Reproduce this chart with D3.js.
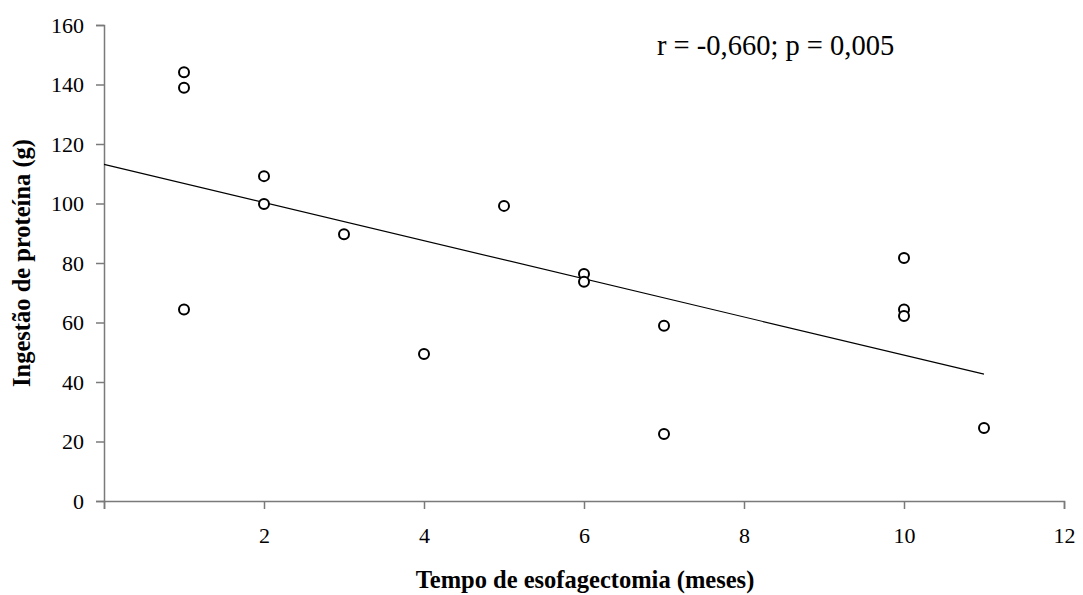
<!DOCTYPE html>
<html>
<head>
<meta charset="utf-8">
<script src="https://cdn.jsdelivr.net/npm/d3@7"></script>
<style>
  body { margin: 0; background: #fff; }
  svg { display: block; }
  text { font-family: "Liberation Serif", "Times New Roman", serif; fill: #000; }
</style>
</head>
<body>
<div id="chart"></div>
<script>
// months since esophagectomy vs protein intake (g)
const tempo   = [1, 1, 1, 2, 2, 3, 4, 5, 6, 6, 7, 7, 10, 10, 10, 11];
const proteina = [144.1, 138.9, 64.4, 109.2, 99.8, 89.7, 49.4, 99.2, 76.3, 73.7, 58.9, 22.5, 81.7, 64.4, 62.2, 24.5];
const xTicks = [0, 2, 4, 6, 8, 10, 12];
const yTicks = [0, 20, 40, 60, 80, 100, 120, 140, 160];
const annotation = "r = -0,660; p = 0,005";

const width = 1083, height = 595;
const margin = { top: 25, right: 19, bottom: 94, left: 104 };
const serif = '"Liberation Serif", "Times New Roman", serif';

const svg = d3.select("#chart").append("svg")
    .attr("width", width)
    .attr("height", height);

const x = d3.scaleLinear().domain([0, 12]).range([margin.left, width - margin.right]);
const y = d3.scaleLinear().domain([0, 160]).range([height - margin.bottom, margin.top]);

// axes
const xAxis = svg.append("g")
    .attr("transform", `translate(0,${y(0)})`)
    .call(d3.axisBottom(x).tickValues(xTicks).tickSize(8).tickPadding(18)
        .tickFormat(d => d === 0 ? "" : d));

const yAxis = svg.append("g")
    .attr("transform", `translate(${x(0)},0)`)
    .call(d3.axisLeft(y).tickValues(yTicks).tickSize(8).tickPadding(12));

[xAxis, yAxis].forEach(g => {
    g.attr("font-family", serif);
    g.select(".domain").attr("stroke", "#7a7a7a").attr("stroke-width", 1.5);
    g.selectAll(".tick line").attr("stroke", "#7a7a7a").attr("stroke-width", 1.5);
    g.selectAll(".tick text")
        .style("font-family", serif)
        .style("font-size", "22px")
        .attr("fill", "#000");
});
yAxis.selectAll(".tick text").attr("dy", "0.34em");

// least squares trend line
const n = tempo.length;
const mx = d3.mean(tempo), my = d3.mean(proteina);
let sxy = 0, sxx = 0;
for (let i = 0; i < n; i++) {
    sxy += (tempo[i] - mx) * (proteina[i] - my);
    sxx += (tempo[i] - mx) ** 2;
}
const slope = sxy / sxx;
const intercept = my - slope * mx;
const lineX = [0, d3.max(tempo)];

svg.append("line")
    .attr("x1", x(lineX[0])).attr("y1", y(intercept + slope * lineX[0]))
    .attr("x2", x(lineX[1])).attr("y2", y(intercept + slope * lineX[1]))
    .attr("stroke", "#000")
    .attr("stroke-width", 1.2);

// points
svg.append("g").selectAll("circle")
    .data(tempo.map((t, i) => ({ t, p: proteina[i] })))
    .join("circle")
    .attr("cx", d => x(d.t))
    .attr("cy", d => y(d.p))
    .attr("r", 5)
    .attr("fill", "#fff")
    .attr("stroke", "#000")
    .attr("stroke-width", 2);

// annotation
svg.append("text")
    .attr("x", 657)
    .attr("y", 55)
    .style("font-size", "28.5px")
    .text(annotation);

// axis titles
svg.append("text")
    .attr("x", 585)
    .attr("y", 588)
    .attr("text-anchor", "middle")
    .style("font-size", "24.5px")
    .style("font-weight", "bold")
    .text("Tempo de esofagectomia (meses)");

svg.append("text")
    .attr("transform", "translate(30,263) rotate(-90)")
    .attr("text-anchor", "middle")
    .style("font-size", "24.5px")
    .style("font-weight", "bold")
    .text("Ingestão de proteína (g)");
</script>
</body>
</html>
